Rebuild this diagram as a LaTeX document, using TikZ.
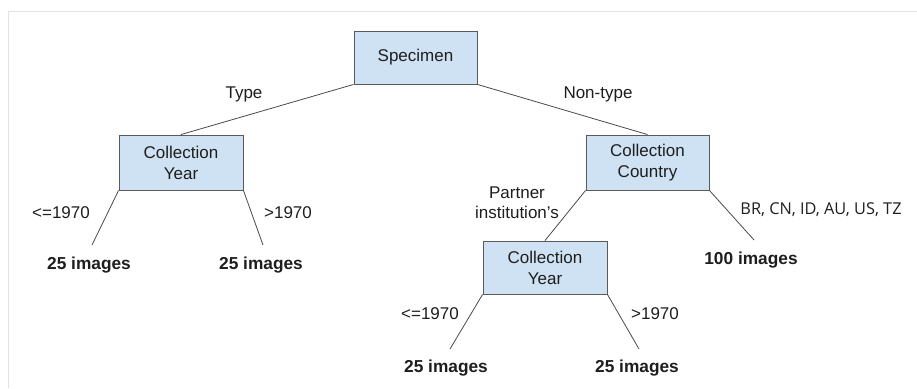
\documentclass[tikz,border=0pt]{standalone}
\usepackage{fontspec}
\setmainfont{Liberation Sans}
\newfontfamily\opensans{Open Sans}
\definecolor{boxfill}{HTML}{CFE2F3}
\definecolor{boxline}{HTML}{5A5A5A}
\definecolor{edgeline}{HTML}{4A4A4A}
\definecolor{framegray}{HTML}{E2E2DE}
\definecolor{txt}{HTML}{1E1E1E}
\begin{document}
\begin{tikzpicture}[x=1pt,y=-1pt,
  box/.style={draw=boxline,fill=boxfill,line width=0.9pt,inner sep=0pt,align=center,
    font=\fontsize{17}{21}\selectfont,text=txt},
  edge/.style={draw=edgeline,line width=0.8pt},
  lbl/.style={inner sep=0pt,align=center,font=\fontsize{17}{20}\selectfont,text=txt},
  leaf/.style={inner sep=0pt,font=\fontsize{17.3}{20}\selectfont\bfseries,text=txt}]
\useasboundingbox (0,0) rectangle (917,388);
\fill[white] (0,0) rectangle (917,388);
\draw[framegray,line width=1pt] (8,388) -- (8,11) -- (917,11);

\node[box,minimum width=123pt,minimum height=53pt] (spec) at (415.5,57.5) {Specimen};
\node[box,minimum width=124pt,minimum height=55pt] (cy1) at (181,162.5) {Collection\\Year};
\node[box,minimum width=123pt,minimum height=55pt] (cc) at (647.5,162.5) {Collection\\Country};
\node[box,minimum width=124pt,minimum height=53pt] (cy2) at (545,267.5) {Collection\\Year};

\coordinate (e1) at (92,245);
\coordinate (e2) at (263,245);
\coordinate (e3) at (754,240);
\coordinate (e4) at (450,349);
\coordinate (e5) at (639,349);

\draw[edge] (spec.south west) -- (cy1.north);
\draw[edge] (spec.south east) -- (cc.north);
\draw[edge] (cy1.south west) -- (e1);
\draw[edge] (cy1.south east) -- (e2);
\draw[edge] (cc.south west) -- (cy2.north);
\draw[edge] (cc.south east) -- (e3);
\draw[edge] (cy2.south west) -- (e4);
\draw[edge] (cy2.south east) -- (e5);

\node[lbl] (ltype) at (244,94) {Type};
\node[lbl] (lnon) at (598,94) {Non-type};
\node[lbl] (lle1) at (61,213) {<=1970};
\node[lbl] (lgt1) at (288,213) {>1970};
\node[lbl] (lpart) at (517,203) {Partner\\institution’s};
\node[lbl,font=\opensans\fontsize{16.3}{19}\selectfont] (lcountry) at (821,210) {BR, CN, ID, AU, US, TZ};
\node[lbl] (lle2) at (430,314) {<=1970};
\node[lbl] (lgt2) at (655,314) {>1970};

\node[leaf] (n1) at (89,265) {25 images};
\node[leaf] (n2) at (261,265) {25 images};
\node[leaf] (n3) at (751,260) {100 images};
\node[leaf] (n4) at (446,368) {25 images};
\node[leaf] (n5) at (637,368) {25 images};
\end{tikzpicture}
\end{document}
